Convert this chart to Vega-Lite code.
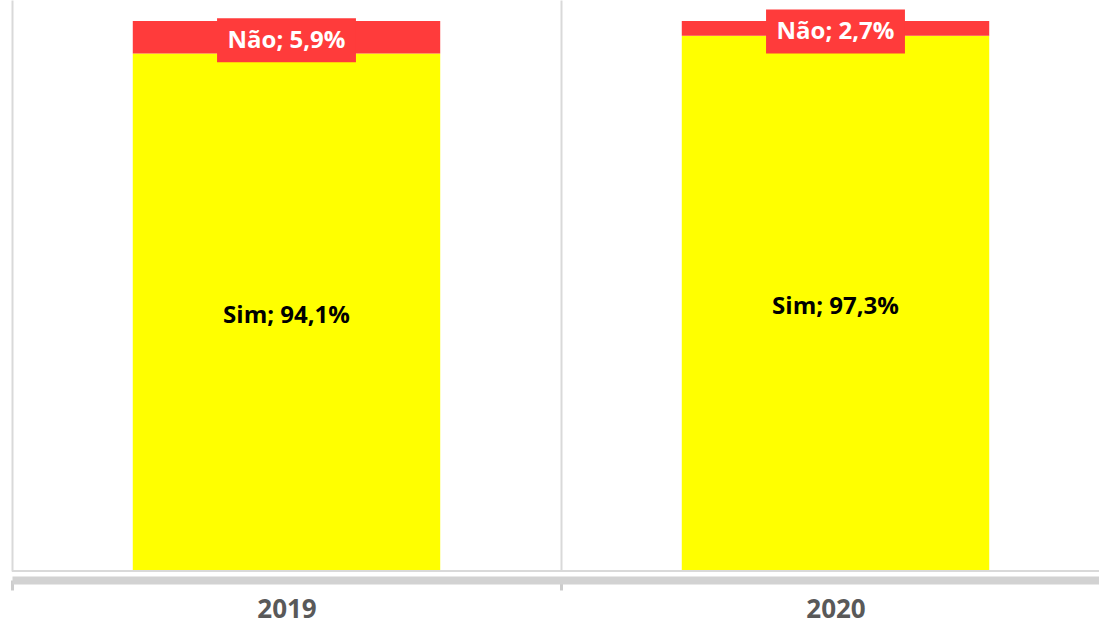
{
  "$schema": "https://vega.github.io/schema/vega-lite/v6.json",
  "autosize": {"type": "none"},
  "padding": {"left": 12, "top": 0, "right": 0, "bottom": 61},
  "width": 1098,
  "height": 571,
  "background": "white",
  "config": {"view": {"stroke": null}},
  "data": {"values": [
    {"ano": "2019", "resposta": "Sim", "ordem": 1, "valor": 94.1, "rotulo": "Sim; 94,1%"},
    {"ano": "2019", "resposta": "Não", "ordem": 2, "valor": 5.9, "rotulo": "Não; 5,9%"},
    {"ano": "2020", "resposta": "Sim", "ordem": 1, "valor": 97.3, "rotulo": "Sim; 97,3%"},
    {"ano": "2020", "resposta": "Não", "ordem": 2, "valor": 2.7, "rotulo": "Não; 2,7%"}
  ]},
  "transform": [
    {"stack": "valor", "groupby": ["ano"], "sort": [{"field": "ordem", "order": "ascending"}], "as": ["v0", "v1"]},
    {"calculate": "(datum.v0 + datum.v1) / 2", "as": "meio"}
  ],
  "encoding": {
    "x": {
      "field": "ano", "type": "nominal",
      "scale": {"paddingInner": 0, "paddingOuter": 0},
      "axis": {
        "title": null, "labelAngle": 0, "bandPosition": 0,
        "grid": true, "gridColor": "#d9d9d9", "gridWidth": 2,
        "domainColor": "#d2d2d2", "domainWidth": 8, "offset": 9,
        "ticks": true, "tickBand": "extent", "tickColor": "#cccccc", "tickWidth": 3, "tickSize": 10,
        "labelFont": "Open Sans", "labelFontWeight": "bold", "labelFontSize": 26,
        "labelColor": "#595959", "labelPadding": 6
      }
    }
  },
  "layer": [
    {
      "mark": {"type": "bar", "width": {"band": 0.56}},
      "encoding": {
        "y": {"field": "v0", "type": "quantitative", "scale": {"domain": [0, 103.82], "nice": false}, "axis": null},
        "y2": {"field": "v1"},
        "color": {"field": "resposta", "type": "nominal", "scale": {"domain": ["Sim", "Não"], "range": ["#ffff00", "#ff3b3b"]}, "legend": null}
      }
    },
    {
      "transform": [{"filter": "datum.resposta == 'Não'"}],
      "mark": {"type": "bar", "width": {"band": 0.253}, "yOffset": -19, "y2Offset": 25, "color": "#ff3b3b"},
      "encoding": {
        "y": {"field": "meio", "type": "quantitative"},
        "y2": {"field": "meio"}
      }
    },
    {
      "mark": {"type": "text", "font": "Open Sans", "fontWeight": "bold", "fontSize": 24, "baseline": "middle", "align": "center", "dy": 4},
      "encoding": {
        "y": {"field": "meio", "type": "quantitative"},
        "text": {"field": "rotulo"},
        "color": {"condition": {"test": "datum.resposta == 'Não'", "value": "#ffffff"}, "value": "#000000"}
      }
    },
    {
      "mark": {"type": "rule", "color": "#d9d9d9", "strokeWidth": 2},
      "encoding": {"y": {"datum": 0}, "x": {"value": 0}, "x2": {"value": 1098}}
    }
  ]
}
